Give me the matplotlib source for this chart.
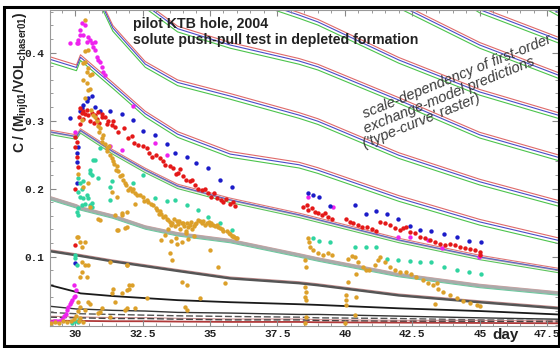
import matplotlib
matplotlib.use("Agg")
import matplotlib.pyplot as plt
from matplotlib.transforms import offset_copy
from matplotlib.patches import Rectangle

plt.rcParams['font.family'] = ['Liberation Sans', 'DejaVu Sans']
plt.rcParams['mathtext.fontset'] = 'custom'
plt.rcParams['mathtext.rm'] = 'Liberation Sans'
plt.rcParams['mathtext.bf'] = 'Liberation Sans:bold'
plt.rcParams['mathtext.it'] = 'Liberation Sans:italic'

# ---- type curves, all on the same day knots ----
curve_days = [29.07, 30.05, 30.2, 31.4, 32.6, 33.8, 35.75, 38.3, 39.0, 42.0, 45.0, 47.9]

tc_t6 = [1.433, 1.426, 1.448, 1.242, 1.095, 0.977, 0.801, 0.712, 0.690, 0.609, 0.521, 0.459]
tc_t5 = [1.242, 1.235, 1.257, 1.065, 0.933, 0.830, 0.698, 0.624, 0.602, 0.536, 0.463, 0.419]
tc_t4 = [1.036, 1.029, 1.051, 0.889, 0.771, 0.683, 0.595, 0.543, 0.529, 0.470, 0.411, 0.367]
tc_t3 = [0.845, 0.838, 0.860, 0.713, 0.624, 0.551, 0.489, 0.455, 0.445, 0.389, 0.342, 0.308]
tc_t2 = [0.639, 0.632, 0.654, 0.536, 0.470, 0.435, 0.411, 0.3875, 0.379, 0.330, 0.279, 0.246]
tc_t1 = [0.528, 0.518, 0.536, 0.436, 0.383, 0.356, 0.336, 0.308, 0.299, 0.249, 0.210, 0.179]
tc_c1 = [0.390, 0.378, 0.393, 0.352, 0.310, 0.280, 0.2507, 0.235, 0.227, 0.186, 0.151, 0.124]
tc_c2 = [0.283, 0.276, 0.285, 0.254, 0.227, 0.2035, 0.183, 0.161, 0.154, 0.124, 0.099, 0.080]
tc_c3 = [0.186, 0.174, 0.171, 0.159, 0.143, 0.133, 0.123, 0.102, 0.096, 0.073, 0.057, 0.046]
tc_c4 = [0.108, 0.102, 0.101, 0.093, 0.086, 0.079, 0.068, 0.061, 0.058, 0.043, 0.033, 0.024]
tc_c5 = [0.058, 0.048, 0.046, 0.042, 0.039, 0.036, 0.033, 0.030, 0.029, 0.024, 0.020, 0.015]
tc_c6 = [0.027, 0.023, 0.023, 0.021, 0.020, 0.018, 0.017, 0.015, 0.015, 0.0125, 0.010, 0.008]
tc_c7 = [0.018, 0.016, 0.016, 0.015, 0.014, 0.013, 0.012, 0.011, 0.010, 0.009, 0.007, 0.006]
tc_c8 = [0.011, 0.010, 0.010, 0.009, 0.009, 0.008, 0.007, 0.007, 0.006, 0.005, 0.005, 0.004]
tc_c9 = [0.006, 0.0055, 0.0055, 0.005, 0.005, 0.0045, 0.004, 0.004, 0.0035, 0.003, 0.0025, 0.002]

# ---- measured tracer data (day, C/(M/VOL)) ----
magenta_day = [30.25, 30.37, 30.19, 30.31, 30.12, 30.06, 30.43, 30.49, 30.61, 30.68, 30.74, 30.80,
               30.86, 30.93, 30.99, 31.05, 31.09, 30.19, 30.56, 30.74, 30.11, 29.81,
               30.0, 31.3, 31.74, 32.15, 32.96, 33.4,
               29.1, 29.2, 29.3, 29.4, 29.5, 29.6, 29.65, 29.7, 29.75, 29.8, 29.85, 29.9, 29.95,
               30.0, 30.02, 29.95,
               38.63, 39.56, 41.96, 42.4, 43.07, 43.6, 44.97, 45.0]
magenta_val = [0.443, 0.440, 0.433, 0.426, 0.418, 0.4135, 0.416, 0.423, 0.4135, 0.4085, 0.404, 0.394,
               0.389, 0.3865, 0.379, 0.372, 0.367, 0.426, 0.418, 0.416, 0.414, 0.414,
               0.283, 0.262, 0.257, 0.321, 0.267, 0.249,
               0.004, 0.005, 0.005, 0.006, 0.008, 0.012, 0.016, 0.021, 0.026, 0.030, 0.033, 0.036, 0.040,
               0.042, 0.051, 0.058,
               0.187, 0.173, 0.129, 0.129, 0.124, 0.112, 0.100, 0.102]

blue_day = [30.62, 30.49, 30.43, 30.31, 30.25, 30.19, 30.93, 31.3, 30.74, 30.12, 30.06, 30.06, 30.06,
            29.81, 30.0,
            31.73, 32.16, 32.53, 32.96, 33.4, 33.7, 34.14, 34.5, 34.94, 35.37, 35.8,
            38.64, 38.83, 39.05, 39.44, 40.37, 40.77, 41.17, 41.57, 41.98, 42.41, 42.8, 43.2,
            43.67, 44.14, 44.6, 45.04]
blue_val = [0.336, 0.333, 0.328, 0.323, 0.318, 0.3135, 0.3135, 0.3135, 0.320, 0.261, 0.252, 0.239, 0.2076,
            0.304, 0.090,
            0.3095, 0.301, 0.284, 0.279, 0.265, 0.252, 0.247, 0.2375, 0.230, 0.213, 0.203,
            0.194, 0.190, 0.187, 0.174, 0.176, 0.1625, 0.167, 0.162, 0.155, 0.145, 0.139, 0.1375,
            0.1326, 0.129, 0.123, 0.122]

red_day = [30.0, 30.06, 30.0, 30.06, 30.12, 30.0, 30.0,
           30.19, 30.25, 30.31, 30.43, 30.49, 30.62, 30.74, 30.86, 30.99, 31.11, 31.23, 31.36, 31.48,
           30.3, 30.55, 30.7, 30.9, 31.0, 30.2, 30.15, 30.37, 30.8, 31.17,
           31.42, 31.8, 32.1, 32.35, 32.65, 32.84, 33.15, 33.33, 33.64, 33.83, 34.0, 34.26, 34.44,
           34.69, 34.94, 35.25, 35.5, 35.74, 35.93,
           31.6, 31.95, 32.2, 32.5, 32.75, 33.0, 33.25, 33.5, 33.75, 33.9, 34.1, 34.35, 34.55, 34.8,
           35.05, 35.15, 35.4, 35.6, 35.85,
           38.46, 38.58, 38.64, 38.77, 38.89, 39.01, 39.14, 39.26, 39.38, 39.51,
           40.06, 40.19, 40.31, 40.5, 40.62, 40.81, 40.99, 41.17, 41.31, 41.48, 41.67, 41.85, 42.04,
           42.16, 42.28, 42.41, 42.59, 42.78, 42.96, 43.15, 43.33, 43.52, 43.7, 43.89, 44.07, 44.26,
           44.44, 44.63, 44.81, 45.0, 45.0]
red_val = [0.276, 0.269, 0.261, 0.247, 0.232, 0.200, 0.117,
           0.318, 0.311, 0.314, 0.3154, 0.308, 0.3105, 0.308, 0.313, 0.3056, 0.3056, 0.300, 0.293, 0.291,
           0.302, 0.300, 0.296, 0.297, 0.310, 0.295, 0.305, 0.309, 0.303, 0.295,
           0.299, 0.289, 0.277, 0.264, 0.2596, 0.247, 0.245, 0.235, 0.230, 0.223, 0.218, 0.2106, 0.2056,
           0.198, 0.193, 0.186, 0.181, 0.177, 0.175,
           0.283, 0.275, 0.267, 0.262, 0.252, 0.250, 0.240, 0.233, 0.221, 0.229, 0.212, 0.213, 0.200, 0.199,
           0.187, 0.194, 0.183, 0.185, 0.181,
           0.173, 0.176, 0.168, 0.171, 0.166, 0.1635, 0.161, 0.1635, 0.1585, 0.156,
           0.156, 0.151, 0.149, 0.146, 0.144, 0.143, 0.140, 0.138, 0.151, 0.149, 0.146, 0.1415, 0.139,
           0.1415, 0.144, 0.1365, 0.134, 0.129, 0.127, 0.124, 0.122, 0.119, 0.117, 0.118, 0.117, 0.114,
           0.112, 0.1105, 0.1096, 0.107, 0.102]

teal_day = [30.12, 30.19, 30.25, 30.12, 30.19, 30.31, 30.43, 30.49, 30.37, 30.25, 30.12, 30.06, 30.12,
            30.56, 30.62, 30.86, 31.3, 30.56, 30.62, 30.0, 30.06, 30.0, 30.68, 30.93, 30.31, 30.56,
            30.62, 30.74, 29.9, 30.0, 30.1, 30.15,
            31.36, 31.3, 32.16, 32.53, 32.96, 33.4, 33.7, 34.14, 34.57, 34.94, 35.37, 35.8,
            38.83, 39.05, 39.44, 40.37, 40.77, 41.17, 41.57, 41.98, 42.41, 42.8, 43.21, 43.67,
            44.14, 44.6, 45.04]
teal_val = [0.215, 0.2077, 0.200, 0.195, 0.188, 0.1855, 0.190, 0.1855, 0.178, 0.176, 0.171, 0.166, 0.161,
            0.227, 0.220, 0.215, 0.2026, 0.176, 0.173, 0.102, 0.0875, 0.098, 0.242, 0.260, 0.2106, 0.223,
            0.179, 0.242, 0.003, 0.006, 0.004, 0.009,
            0.2106, 0.1835, 0.2076, 0.220, 0.186, 0.182, 0.183, 0.176, 0.168, 0.1585, 0.149, 0.139,
            0.1268, 0.123, 0.122, 0.1144, 0.1144, 0.1144, 0.097, 0.095, 0.094, 0.0924, 0.0924, 0.085,
            0.081, 0.0777, 0.0743]

orange_day = [30.37, 30.37, 30.31, 30.49, 30.56, 30.49, 30.49, 30.37, 30.43, 30.62, 30.56, 30.37, 30.25,
              30.43, 30.3,
              30.68, 30.8, 30.93, 31.05, 30.99, 31.17, 31.3, 31.42, 31.54, 31.73, 31.79, 32.04, 32.22,
              32.41, 32.65, 32.9, 33.15, 33.33, 33.46, 33.77, 34.01, 34.26, 34.44, 34.63, 34.88, 35.12,
              35.37, 35.62, 35.86, 35.99,
              30.6, 30.75, 30.85, 30.9, 31.0, 31.1, 31.2, 31.25, 31.35, 31.45, 31.5, 31.6, 31.65, 31.85,
              31.9, 31.95, 32.1, 32.15, 32.3, 32.5, 32.55, 32.7, 32.8, 33.0, 33.05, 33.1, 33.2, 33.25,
              33.4, 33.5, 33.55, 33.6, 33.65, 33.7, 33.8, 33.85, 33.9, 33.95, 34.05, 34.1, 34.15, 34.2,
              34.3, 34.35, 34.4, 34.5, 34.55, 34.7, 34.75, 34.8, 34.95, 35.0, 35.05, 35.2, 35.25, 35.3,
              35.45, 35.5, 35.7, 35.75, 35.8, 35.9, 35.95,
              33.35, 33.55, 33.75, 33.95, 34.2, 34.4, 33.45, 34.1,
              30.19, 30.12, 30.25, 30.37, 30.49, 30.19, 30.25, 30.12, 30.19, 30.56, 30.86, 31.3, 31.42,
              31.54, 31.73, 31.85, 31.91, 31.98, 32.1, 31.91, 32.22, 32.65, 33.2, 33.52, 33.58, 33.77,
              33.95, 34.14, 34.07, 34.63, 35.0, 35.3, 35.56, 30.31, 30.49, 30.12, 30.56, 30.93, 30.37,
              30.93, 31.48, 34.14, 31.3, 31.36, 31.54, 31.91, 31.73, 31.48, 30.86, 31.91, 31.6, 30.06,
              30.37, 30.25, 30.43, 31.91, 31.36, 31.98, 31.91, 31.73, 30.49, 31.0, 31.85, 32.22,
              29.1, 29.25, 29.4, 29.55, 29.7, 29.85, 29.95, 30.05, 30.1, 30.15, 30.2, 30.3,
              38.64, 38.68, 38.7, 38.83, 39.01, 39.2, 39.38, 39.51,
              40.12, 40.25, 40.37, 40.5, 40.68, 40.8, 40.9, 41.11, 41.23, 41.3, 41.48, 41.67, 41.85,
              42.04, 42.28, 42.47, 42.65, 42.9, 43.09, 43.27, 43.4, 43.46, 43.65, 43.89, 44.14, 44.38,
              44.63, 44.88, 45.0,
              38.52, 38.55, 38.52, 38.55, 38.52, 38.55, 38.55, 38.52, 40.06, 40.06, 40.06, 40.43,
              40.43, 40.37, 40.12, 40.0, 43.33]
orange_val = [0.448, 0.402, 0.3846, 0.377, 0.367, 0.345, 0.404, 0.3865, 0.372, 0.369, 0.347, 0.3326, 0.3007,
              0.355, 0.360,
              0.3085, 0.299, 0.289, 0.279, 0.269, 0.2596, 0.2497, 0.240, 0.2326, 0.220, 0.213, 0.2007, 0.193,
              0.191, 0.1835, 0.176, 0.1665, 0.159, 0.154, 0.152, 0.149, 0.147, 0.148, 0.152, 0.149, 0.147,
              0.142, 0.137, 0.130, 0.127,
              0.315, 0.305, 0.292, 0.283, 0.275, 0.265, 0.255, 0.262, 0.245, 0.236, 0.228, 0.226, 0.218, 0.208,
              0.205, 0.198, 0.196, 0.199, 0.190, 0.187, 0.182, 0.180, 0.177, 0.172, 0.169, 0.163, 0.162, 0.158,
              0.156, 0.151, 0.146, 0.149, 0.155, 0.145, 0.148, 0.153, 0.141, 0.150, 0.145, 0.138, 0.150, 0.143,
              0.151, 0.141, 0.145, 0.150, 0.154, 0.149, 0.153, 0.147, 0.151, 0.146, 0.149, 0.145, 0.146, 0.143,
              0.140, 0.138, 0.135, 0.133, 0.131, 0.129, 0.128,
              0.132, 0.123, 0.127, 0.121, 0.126, 0.131, 0.140, 0.135,
              0.122, 0.129, 0.114, 0.0875, 0.0875, 0.070, 0.0776, 0.0335, 0.026, 0.031, 0.0165, 0.092, 0.053,
              0.139, 0.1635, 0.1415, 0.0875, 0.053, 0.058, 0.024, 0.178, 0.0385, 0.124, 0.1047, 0.095, 0.119,
              0.063, 0.058, 0.026, 0.0385, 0.1096, 0.085, 0.0606, 0.2026, 0.2076, 0.222, 0.173, 0.1537, 0.0213,
              0.0188, 0.0335, 0.0213, 0.0115, 0.195, 0.188, 0.166, 0.161, 0.161, 0.156, 0.1438, 0.139, 0.129,
              0.122, 0.092, 0.070, 0.0875, 0.046, 0.058, 0.0507, 0.046, 0.0335, 0.024, 0.0213, 0.024,
              0.003, 0.004, 0.002, 0.005, 0.004, 0.006, 0.008, 0.012, 0.020, 0.006, 0.010, 0.004,
              0.127, 0.122, 0.114, 0.1096, 0.1047, 0.102, 0.1047, 0.102,
              0.097, 0.1007, 0.0988, 0.092, 0.085, 0.080, 0.080, 0.0875, 0.095, 0.0988, 0.092, 0.085, 0.080,
              0.0776, 0.0776, 0.075, 0.070, 0.0654, 0.0615, 0.058, 0.0606, 0.053, 0.048, 0.043, 0.0385, 0.035,
              0.032, 0.0287, 0.027,
              0.0949, 0.085, 0.0556, 0.048, 0.041, 0.036, 0.0115, 0.002, 0.043, 0.036, 0.029, 0.041,
              0.075, 0.014, 0.063, 0.002, 0.031]

x_ticks = [30, 32.5, 35, 37.5, 40, 42.5, 45, 47.5]
x_ticklabels = ['30', '32.5', '35', '37.5', '40', '42.5', '45', '47.5']
y_ticks = [0.1, 0.2, 0.3, 0.4]
y_ticklabels = ['0.1', '0.2', '0.3', '0.4']

# line styles per type curve: (colour, vertical offset in px, width, dash)
RGB = [('#e06a6a', 2.5, 0.8, '-'), ('#4c4cc8', 0.0, 0.8, '-'), ('#4cc44c', -3.2, 0.8, '-')]
curves = [
    (tc_t6, RGB), (tc_t5, RGB), (tc_t4, RGB), (tc_t3, RGB), (tc_t2, RGB), (tc_t1, RGB), (tc_c1, RGB),
    (tc_c2, [('#e07878', 2.0, 0.8, '-'), ('#b0b0b0', 0.0, 1.4, '-'), ('#5a5ac8', 0.3, 0.7, '-'),
             ('#5cc45c', -2.4, 0.8, '-')]),
    (tc_c3, [('#d8a0a0', 1.6, 0.8, '-'), ('#aaaaaa', 0.0, 2.4, '-'), ('#70c8a0', -1.8, 0.8, '-')]),
    (tc_c4, [('#c89090', 1.4, 0.8, '-'), ('#555555', 0.0, 1.8, '-')]),
    (tc_c5, [('#1a1a1a', 0.0, 1.3, '-')]),
    (tc_c6, [('#333333', 0.0, 1.0, '-')]),
    (tc_c7, [('#555555', 0.0, 1.0, '--')]),
    (tc_c8, [('#d09090', 0.9, 0.8, '-'), ('#444444', 0.0, 1.0, '--')]),
    (tc_c9, [('#b03a3a', 0.0, 1.3, '-')]),
]

fig = plt.figure(figsize=(5.6, 3.48), dpi=100)
ax = fig.add_axes([0.0893, 0.0632, 0.9071, 0.9081])

for vals, style in curves:
    for color, dy, lw, ls in style:
        tr = offset_copy(ax.transData, fig=fig, x=0, y=dy, units='dots')
        ax.plot(curve_days, vals, color=color, lw=lw, ls=ls, transform=tr, zorder=1,
                dashes=(5, 2) if ls == '--' else (None, None))

ms = 10
ax.scatter(magenta_day, magenta_val, s=ms, color='#ee22ee', lw=0, zorder=3)
ax.scatter(blue_day, blue_val, s=ms, color='#1c1cc8', lw=0, zorder=3)
ax.scatter(red_day, red_val, s=ms, color='#e41818', lw=0, zorder=3)
ax.scatter(teal_day, teal_val, s=ms, color='#30d4a0', lw=0, zorder=3)
ax.scatter(orange_day, orange_val, s=ms, color='#dca02a', lw=0, zorder=4)

ax.set_xlim(29.07, 47.9)
ax.set_ylim(-0.002, 0.4625)
ax.set_xticks(x_ticks)
ax.set_xticklabels(x_ticklabels)
ax.set_yticks(y_ticks)
ax.set_yticklabels(y_ticklabels)
ax.set_xticks([29.5 + 0.5 * i for i in range(37)], minor=True)
ax.set_yticks([0.02 * i for i in range(24)], minor=True)
ax.tick_params(which='both', direction='in', top=True, right=True, color='#888888')
ax.tick_params(which='major', length=4, width=0.8)
ax.tick_params(which='minor', length=2, width=0.6)
ax.tick_params(axis='x', pad=2)
ax.tick_params(axis='y', pad=4)
for lab in ax.get_xticklabels() + ax.get_yticklabels():
    lab.set_fontfamily('Liberation Mono')
    lab.set_fontweight('bold')
    lab.set_fontsize(8)
    lab.set_color('#222222')
for sp in ax.spines.values():
    sp.set_color('#9a9a9a')
    sp.set_linewidth(0.8)

# y label sits high on the axis and over the tick numbers, as in the original
ax.set_ylabel(r'C / (M$_\mathbf{inj01}$/VOL$_\mathbf{chaser01}$)', fontsize=10,
              fontweight='bold', color='#222222')
ax.yaxis.set_label_coords(-0.037, 0.77)
ax.text(45.95, -0.0155, 'day', ha='center', va='center', fontsize=11, fontweight='bold',
        color='#222222', clip_on=False)

fig.text(133 / 560, 1 - 28 / 348, 'pilot KTB hole, 2004', fontsize=10.2, fontweight='bold',
         color='#222222', va='baseline')
fig.text(133 / 560, 1 - 44 / 348, 'solute push-pull test in depleted formation', fontsize=10.2,
         fontweight='bold', color='#222222', va='baseline')

notes = ['scale-dependency of first-order', 'exchange-model predictions', "('type-curve' raster)"]
note_pos = [(365, 118), (366, 133), (365, 148)]
for txt, (px, py) in zip(notes, note_pos):
    fig.text(px / 560, 1 - py / 348, txt, fontsize=10.5, style='italic', color='#3a3a3a',
             rotation=22, rotation_mode='anchor', ha='left', va='baseline')

fig.patches.append(Rectangle((0.008, 0.005), 0.99, 0.975, transform=fig.transFigure,
                             fill=False, lw=2.2, ec='black'))

fig.savefig('out.png', dpi=100)
